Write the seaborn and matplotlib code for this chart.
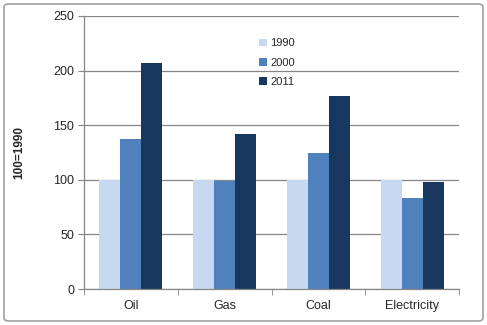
import matplotlib
matplotlib.use("Agg")
import matplotlib.pyplot as plt
import seaborn as sns
import pandas as pd
from matplotlib.patches import FancyBboxPatch

categories = ["Oil", "Gas", "Coal", "Electricity"]
years = ["1990", "2000", "2011"]
v1990 = [100, 100, 100, 100]
v2000 = [137, 99, 125, 83]
v2011 = [207, 142, 177, 98]
colors = ["#C6D9F1", "#4F81BD", "#17375E"]

rows = []
for yr, vals in zip(years, [v1990, v2000, v2011]):
    for c, v in zip(categories, vals):
        rows.append({"cat": c, "year": yr, "val": v})
df = pd.DataFrame(rows)

sns.set_style("white")
plt.rcParams['font.family'] = ['Liberation Sans', 'DejaVu Sans']

fig = plt.figure(figsize=(4.87, 3.25), dpi=100)
ax = fig.add_axes([84/487, 36/325, 375/487, 273/325])

sns.barplot(data=df, x="cat", y="val", hue="year", palette=colors,
            width=0.67, gap=0, saturation=1, ax=ax, edgecolor="none",
            order=categories, hue_order=years)

ax.set_ylim(0, 250)
ax.set_xlim(-0.5, 3.5)
ax.set_yticks([0, 50, 100, 150, 200, 250])
ax.yaxis.grid(True, color="#868686", linewidth=0.9)
ax.set_axisbelow(True)
for s in ["top", "right"]:
    ax.spines[s].set_visible(False)
for s in ["left", "bottom"]:
    ax.spines[s].set_color("#868686")
    ax.spines[s].set_linewidth(0.9)
ax.tick_params(axis="y", length=4, color="#868686", labelsize=9, pad=3, left=True)
ax.tick_params(axis="x", which="major", length=0, labelsize=9, pad=8)
ax.set_xticks([-0.5, 0.5, 1.5, 2.5, 3.5], minor=True)
ax.tick_params(axis="x", which="minor", length=4, color="#868686", bottom=True)
ax.set_xlabel("")
ax.set_ylabel("100=1990", fontsize=8.5, fontweight="bold", labelpad=20)

ax.legend(loc="upper left", bbox_to_anchor=(0.44, 0.955), frameon=False,
          fontsize=8, handlelength=0.7, handleheight=0.7, handletextpad=0.3,
          labelspacing=0.85)

border = FancyBboxPatch((4/487, 4/325), 479/487, 317/325,
                        boxstyle="round,pad=0,rounding_size=0.01",
                        transform=fig.transFigure, fill=False,
                        edgecolor="#A0A0A0", linewidth=1.2)
fig.patches.append(border)

fig.savefig("out.png", dpi=100)
